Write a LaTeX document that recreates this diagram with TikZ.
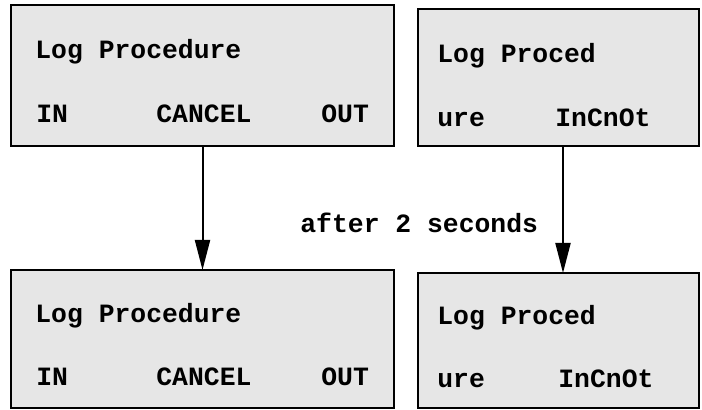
\documentclass[tikz,border=0pt]{standalone}
\usepackage{fontspec}
\setmonofont{Liberation Mono}
\usetikzlibrary{arrows.meta,positioning}
\usepackage{xcolor}
\definecolor{lcdgray}{HTML}{E6E6E6}
\tikzset{
  lcd/.style={draw=black, line width=1pt, fill=lcdgray, anchor=north west, inner sep=0pt, outer sep=0pt},
  wide/.style={lcd, minimum width=191.5pt},
  narrow/.style={lcd, minimum width=140.5pt},
  lcdtext/.style={anchor=base west, inner sep=0pt, font=\ttfamily\bfseries\fontsize{13.2}{16}\selectfont},
  flow/.style={-{Triangle[length=15pt,width=7.5pt]}, line width=1pt, draw=black}
}

\begin{document}
\begin{tikzpicture}[x=0.5pt, y=-0.5pt]
  \useasboundingbox (0,0) rectangle (702,410);
  % displays before
  \node[wide, minimum height=70.5pt] (lcdA) at (11,5) {};
  \node[narrow, minimum height=68.5pt] (lcdB) at (418,9) {};
  % displays after
  \node[wide, minimum height=69pt] (lcdC) at (11,270) {};
  \node[narrow, minimum height=67.5pt] (lcdD) at (418,273) {};

  \node[lcdtext] (aTitle) at (35,59) {Log Procedure};
  \node[lcdtext] (aIn) at (36,123) {IN};
  \node[lcdtext] (aCancel) at (156,123) {CANCEL};
  \node[lcdtext] (aOut) at (321,123) {OUT};

  \node[lcdtext] (bTitle) at (437,63) {Log Proced};
  \node[lcdtext] (bUre) at (437,127) {ure};
  \node[lcdtext] (bKeys) at (555,127) {InCnOt};

  \node[lcdtext] (cTitle) at (35,323) {Log Procedure};
  \node[lcdtext] (cIn) at (36,386) {IN};
  \node[lcdtext] (cCancel) at (156,386) {CANCEL};
  \node[lcdtext] (cOut) at (321,386) {OUT};

  \node[lcdtext] (dTitle) at (437,325) {Log Proced};
  \node[lcdtext] (dUre) at (437,388) {ure};
  \node[lcdtext] (dKeys) at (558,388) {InCnOt};

  \node[lcdtext] (delay) at (300,233) {after 2 seconds};

  \draw[flow] (lcdA.south) -- (lcdC.north);
  \draw[flow] ([xshift=2.25pt]lcdB.south) -- ([xshift=2.25pt]lcdD.north);
\end{tikzpicture}
\end{document}
